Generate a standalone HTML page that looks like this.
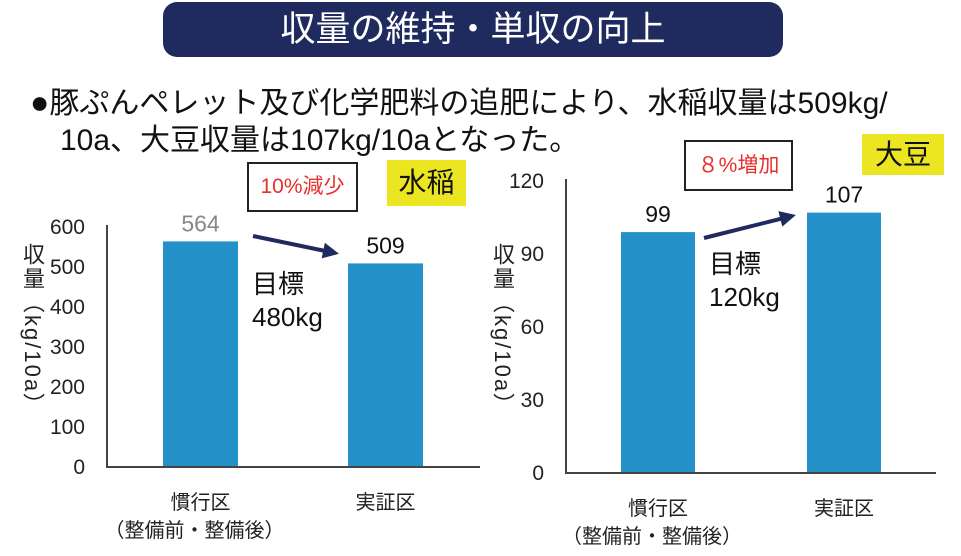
<!DOCTYPE html>
<html><head><meta charset="utf-8">
<style>
body{margin:0;width:961px;height:556px;background:#fff;overflow:hidden;position:relative;font-family:"Liberation Sans","Noto Sans CJK JP",sans-serif;}
.abs{position:absolute;}
#title{left:163px;top:2px;width:620px;height:55px;background:#1f2a5e;border-radius:14px;color:#fff;font-size:35px;line-height:55px;text-align:center;}
.line{left:30px;font-size:30px;color:#111;white-space:nowrap;}
.box{border:2px solid #222;background:#fff;color:#e8302a;font-size:21px;text-align:center;box-sizing:border-box;}
.yel{background:#ece622;font-size:28px;text-align:center;color:#111;}
.ytitle{writing-mode:vertical-rl;font-size:22px;color:#222;letter-spacing:2px;}
</style></head><body>
<div id="title" class="abs">収量の維持・単収の向上</div>
<div class="abs line" style="top:78px"><span style="font-size:32px">●</span>豚ぷんペレット及び化学肥料の追肥により、水稲収量は509kg/</div>
<div class="abs line" style="top:115px;left:60px">10a、大豆収量は107kg/10aとなった。</div>
<div class="abs box" style="left:247px;top:162px;width:111px;height:50px;line-height:46px">10%減少</div>
<div class="abs yel" style="left:387px;top:160px;width:79px;height:46px;line-height:46px">水稲</div>
<div class="abs box" style="left:684px;top:140px;width:109px;height:51px;line-height:47px">８%増加</div>
<div class="abs yel" style="left:862px;top:134px;width:82px;height:41px;line-height:41px">大豆</div>
<div class="abs ytitle" style="left:16px;top:243px">収量（kg/10a）</div>
<div class="abs ytitle" style="left:486px;top:243px">収量（kg/10a）</div>
<svg id="chart" class="abs" style="left:0;top:0" width="961" height="556"></svg>
<script>
const categories=["慣行区","実証区"];
const riceValues=[564,509];
const soyValues=[99,107];
const riceTicks=[0,100,200,300,400,500,600];
const soyTicks=[0,30,60,90,120];
const NS="http://www.w3.org/2000/svg";
const svg=document.getElementById('chart');
function mk(tag,attrs,text){const e=document.createElementNS(NS,tag);for(const k in attrs)e.setAttribute(k,attrs[k]);if(text!==undefined)e.textContent=text;svg.appendChild(e);return e;}
function drawChart(cfg){
  const y=v=>cfg.bottom-(v/cfg.max)*(cfg.bottom-cfg.top);
  cfg.ticks.forEach(t=>{
    const e=mk('text',{x:cfg.axisX-22,y:y(t)+7,'text-anchor':'end','font-size':21,fill:'#222'},String(t));
    
    
  });
  cfg.values.forEach((v,i)=>{
    const r=mk('rect',{x:cfg.barX[i],y:y(v),width:cfg.barW,height:cfg.bottom-y(v),fill:'#2591c9'});
    
    
    const l=mk('text',{x:cfg.barX[i]+cfg.barW/2,y:y(v)-10,'text-anchor':'middle','font-size':23,fill:(cfg.id==='rice'&&i===0)?'#888':'#111'},String(v));
    
    
    const c=mk('text',{x:cfg.barX[i]+cfg.barW/2,y:cfg.bottom+42,'text-anchor':'middle','font-size':20,fill:'#222'},categories[i]);
    
    
  });
  const s=mk('text',{x:cfg.barX[0]+cfg.barW/2-6,y:cfg.bottom+70,'text-anchor':'middle','font-size':20,fill:'#222'},'（整備前・整備後）');
  
  
  const ax=mk('path',{d:`M${cfg.axisX} ${cfg.top-2} V${cfg.bottom} H${cfg.axisEnd}`,stroke:'#444','stroke-width':2,fill:'none'});
  
  
  const a=mk('line',{x1:cfg.arrow[0],y1:cfg.arrow[1],x2:cfg.arrow[2],y2:cfg.arrow[3],stroke:'#1f2a5e','stroke-width':4});
  
  
  const [x1,y1,x2,y2]=cfg.arrow;const ang=Math.atan2(y2-y1,x2-x1);
  const p=[[x2+4*Math.cos(ang),y2+4*Math.sin(ang)],[x2-12*Math.cos(ang)+8*Math.sin(ang),y2-12*Math.sin(ang)-8*Math.cos(ang)],[x2-12*Math.cos(ang)-8*Math.sin(ang),y2-12*Math.sin(ang)+8*Math.cos(ang)]];
  const h=mk('polygon',{points:p.map(q=>q.join(',')).join(' '),fill:'#1f2a5e'});
  
  
  const g1=mk('text',{x:cfg.goal[0],y:cfg.goal[1],'font-size':26,fill:'#111'},'目標');
  
  
  const g2=mk('text',{x:cfg.goal[0],y:cfg.goal[1]+33,'font-size':26,fill:'#111'},cfg.goalText);
  
  
}
drawChart({id:'rice',values:riceValues,ticks:riceTicks,max:600,top:227,bottom:467,axisX:107,axisEnd:480,barX:[163,348],barW:75,arrow:[253,236,335,253],goal:[252,293],goalText:'480kg'});
drawChart({id:'soy',values:soyValues,ticks:soyTicks,max:120,top:181,bottom:473,axisX:566,axisEnd:936,barX:[621,807],barW:74,arrow:[704,238,792,216],goal:[709,273],goalText:'120kg'});
</script>
</body></html>
